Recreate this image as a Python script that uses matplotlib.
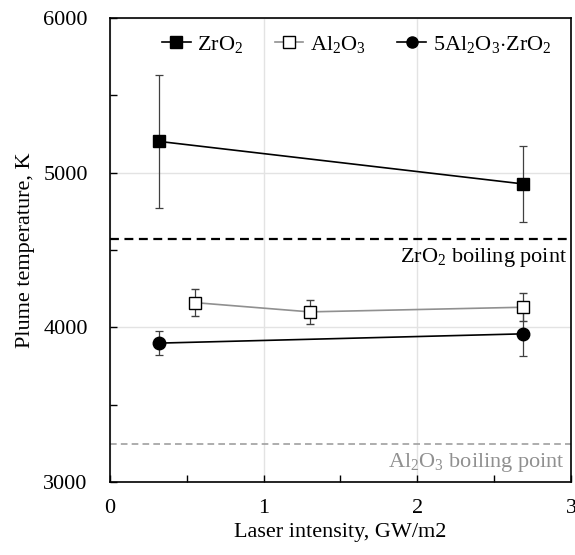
import numpy as np
import matplotlib
matplotlib.use("Agg")
import matplotlib.pyplot as plt
from matplotlib.lines import Line2D

plt.rcParams['font.family'] = ['Liberation Serif', 'DejaVu Serif']
plt.rcParams['mathtext.fontset'] = 'custom'
plt.rcParams['mathtext.rm'] = 'Liberation Serif'
plt.rcParams['mathtext.it'] = 'Liberation Serif:italic'

# data
zro2_x = [0.32, 2.69]
zro2_y = [5202, 4927]
zro2_err = [430, 248]

al2o3_x = [0.55, 1.30, 2.69]
al2o3_y = [4160, 4100, 4130]
al2o3_err = [87, 78, 90]

mix_x = [0.32, 2.69]
mix_y = [3898, 3958]
mix_err = [80, 142]

zro2_boil = 4573
al2o3_boil = 3246

lab_zro2 = r'ZrO$_\mathregular{2}$'
lab_al2o3 = r'Al$_\mathregular{2}$O$_\mathregular{3}$'
lab_mix = r'5Al$_\mathregular{2}$O$_\mathregular{3}$$\cdot$ZrO$_\mathregular{2}$'

fs = 16

fig = plt.figure(figsize=(5.75, 5.55), dpi=100)
ax = fig.add_axes([0.1913, 0.1315, 0.8017, 0.8361])

ax.grid(True, color='#e3e3e3', lw=1)
ax.set_axisbelow(True)

ax.axhline(zro2_boil, color='black', ls=(0, (4, 2.5)), lw=1.6)
ax.axhline(al2o3_boil, color='#a0a0a0', ls=(0, (4, 2.5)), lw=1.2)

ax.errorbar(zro2_x, zro2_y, yerr=zro2_err, color='black', lw=1.2, marker='s', ms=9,
            mfc='black', mec='black', ecolor='#404040', elinewidth=0.9, capsize=2.7,
            capthick=0.9)
ax.errorbar(al2o3_x, al2o3_y, yerr=al2o3_err, color='#909090', lw=1.2, marker='s', ms=8,
            mfc='white', mec='black', mew=1.0, ecolor='#404040', elinewidth=0.9,
            capsize=2.7, capthick=0.9)
ax.errorbar(mix_x, mix_y, yerr=mix_err, color='black', lw=1.2, marker='o', ms=9,
            mfc='black', mec='black', ecolor='#404040', elinewidth=0.9, capsize=2.7,
            capthick=0.9)

ax.text(2.975, zro2_boil - 45, lab_zro2 + ' boiling point', ha='right', va='top',
        fontsize=fs, color='black')
ax.text(2.96, al2o3_boil - 45, lab_al2o3 + ' boiling point',
        ha='right', va='top', fontsize=fs, color='#909090')

ax.set_xlim(0, 3)
ax.set_ylim(3000, 6000)
ax.set_xticks([0, 1, 2, 3])
ax.set_xticks([0.5, 1.5, 2.5], minor=True)
ax.set_yticks([3000, 4000, 5000, 6000])
ax.set_yticks([3500, 4500, 5500], minor=True)
ax.tick_params(which='both', direction='in', length=5, width=1, labelsize=fs, pad=12)
ax.tick_params(axis='y', pad=16)
ax.tick_params(axis='x', which='both', top=False)
ax.tick_params(axis='y', which='both', right=False)
ax.xaxis.grid(False, which='minor')
for s in ax.spines.values():
    s.set_linewidth(1.2)

ax.set_xlabel('Laser intensity, GW/m2', fontsize=fs, labelpad=4)
ax.set_ylabel('Plume temperature, K', fontsize=fs, labelpad=6)

handles = [
    Line2D([], [], color='black', lw=1.2, marker='s', ms=8, mfc='black', mec='black'),
    Line2D([], [], color='#909090', lw=1.2, marker='s', ms=8, mfc='white', mec='black'),
    Line2D([], [], color='black', lw=1.2, marker='o', ms=8, mfc='black', mec='black'),
]
ax.legend(handles, [lab_zro2, lab_al2o3, lab_mix], loc='upper center', ncol=3,
          frameon=False, fontsize=fs, handlelength=1.3, handletextpad=0.3,
          columnspacing=1.4, bbox_to_anchor=(0.535, 1.0), borderaxespad=0.3)

fig.savefig('out.png', dpi=100)
